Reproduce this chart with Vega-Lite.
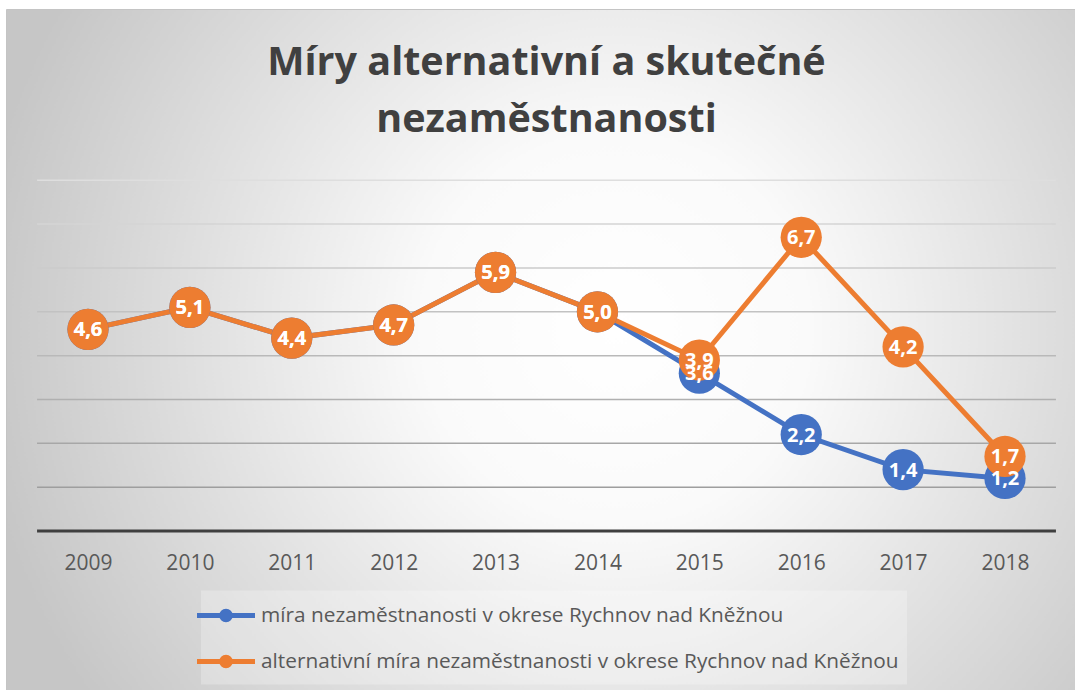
{
  "$schema": "https://vega.github.io/schema/vega-lite/v6.json",
  "autosize": {"type": "fit", "contains": "padding"},
  "width": 1075,
  "height": 690,
  "padding": {"left": 6, "top": 9, "right": 0, "bottom": 0},
  "background": "#ffffff",
  "config": {
    "locale": {"number": {"decimal": ",", "thousands": " ", "grouping": [3], "currency": ["", " Kč"]}},
    "view": {
      "stroke": "#c4c4c4",
      "fill": {
        "gradient": "radial",
        "x1": 0.57, "y1": 0.48, "r1": 0,
        "x2": 0.57, "y2": 0.48, "r2": 0.6,
        "stops": [
          {"offset": 0, "color": "#ffffff"},
          {"offset": 0.3, "color": "#fafafa"},
          {"offset": 1, "color": "#c6c6c6"}
        ]
      }
    },
    "font": "Open Sans"
  },
  "title": {
    "text": ["Míry alternativní a skutečné", "nezaměstnanosti"],
    "font": "Open Sans",
    "fontSize": 39.5,
    "fontWeight": "bold",
    "color": "#404040",
    "anchor": "middle",
    "frame": "group",
    "baseline": "top",
    "lineHeight": 57,
    "offset": -131,
    "dx": 6
  },
  "data": {
    "values": [
      {"rok": 2009, "rada": "míra nezaměstnanosti v okrese Rychnov nad Kněžnou", "hodnota": 4.6},
      {"rok": 2010, "rada": "míra nezaměstnanosti v okrese Rychnov nad Kněžnou", "hodnota": 5.1},
      {"rok": 2011, "rada": "míra nezaměstnanosti v okrese Rychnov nad Kněžnou", "hodnota": 4.4},
      {"rok": 2012, "rada": "míra nezaměstnanosti v okrese Rychnov nad Kněžnou", "hodnota": 4.7},
      {"rok": 2013, "rada": "míra nezaměstnanosti v okrese Rychnov nad Kněžnou", "hodnota": 5.9},
      {"rok": 2014, "rada": "míra nezaměstnanosti v okrese Rychnov nad Kněžnou", "hodnota": 5.0},
      {"rok": 2015, "rada": "míra nezaměstnanosti v okrese Rychnov nad Kněžnou", "hodnota": 3.6},
      {"rok": 2016, "rada": "míra nezaměstnanosti v okrese Rychnov nad Kněžnou", "hodnota": 2.2},
      {"rok": 2017, "rada": "míra nezaměstnanosti v okrese Rychnov nad Kněžnou", "hodnota": 1.4},
      {"rok": 2018, "rada": "míra nezaměstnanosti v okrese Rychnov nad Kněžnou", "hodnota": 1.2},
      {"rok": 2009, "rada": "alternativní míra nezaměstnanosti v okrese Rychnov nad Kněžnou", "hodnota": 4.6},
      {"rok": 2010, "rada": "alternativní míra nezaměstnanosti v okrese Rychnov nad Kněžnou", "hodnota": 5.1},
      {"rok": 2011, "rada": "alternativní míra nezaměstnanosti v okrese Rychnov nad Kněžnou", "hodnota": 4.4},
      {"rok": 2012, "rada": "alternativní míra nezaměstnanosti v okrese Rychnov nad Kněžnou", "hodnota": 4.7},
      {"rok": 2013, "rada": "alternativní míra nezaměstnanosti v okrese Rychnov nad Kněžnou", "hodnota": 5.9},
      {"rok": 2014, "rada": "alternativní míra nezaměstnanosti v okrese Rychnov nad Kněžnou", "hodnota": 5.0},
      {"rok": 2015, "rada": "alternativní míra nezaměstnanosti v okrese Rychnov nad Kněžnou", "hodnota": 3.9},
      {"rok": 2016, "rada": "alternativní míra nezaměstnanosti v okrese Rychnov nad Kněžnou", "hodnota": 6.7},
      {"rok": 2017, "rada": "alternativní míra nezaměstnanosti v okrese Rychnov nad Kněžnou", "hodnota": 4.2},
      {"rok": 2018, "rada": "alternativní míra nezaměstnanosti v okrese Rychnov nad Kněžnou", "hodnota": 1.7}
    ]
  },
  "encoding": {
    "x": {
      "type": "quantitative",
      "scale": {"domain": [2008.1952, 2018.687], "nice": false, "zero": false},
      "axis": {
        "orient": "bottom",
        "offset": -159,
        "values": [2009, 2010, 2011, 2012, 2013, 2014, 2015, 2016, 2017, 2018],
        "format": "d",
        "domain": false,
        "ticks": false,
        "grid": false,
        "labelPadding": 21,
        "labelFontSize": 21,
        "labelColor": "#595959",
        "labelFont": "Open Sans",
        "title": null
      }
    },
    "y": {
      "type": "quantitative",
      "scale": {"domain": [-3.627, 11.907], "nice": false, "zero": false},
      "axis": null
    }
  },
  "layer": [
    {
      "data": {"values": [{"v": 1}, {"v": 2}, {"v": 3}, {"v": 4}, {"v": 5}, {"v": 6}, {"v": 7}, {"v": 8}]},
      "mark": {"type": "rule", "strokeWidth": 1.5},
      "encoding": {
        "x": {"datum": 2008.5},
        "x2": {"datum": 2018.5},
        "y": {"field": "v"},
        "stroke": {
          "field": "v",
          "type": "quantitative",
          "scale": {"domain": [1, 8], "range": ["#9e9e9e", "#dedede"]},
          "legend": null
        }
      }
    },
    {
      "data": {"values": [{"osa": 0}]},
      "mark": {"type": "rule", "strokeWidth": 3, "color": "#3f3f3f"},
      "encoding": {
        "x": {"datum": 2008.5},
        "x2": {"datum": 2018.5},
        "y": {"datum": 0}
      }
    },
    {
      "mark": {
        "type": "line",
        "strokeWidth": 5,
        "point": {"filled": true, "size": 1700, "opacity": 1}
      },
      "encoding": {
        "x": {"field": "rok"},
        "y": {"field": "hodnota"},
        "color": {
          "field": "rada",
          "type": "nominal",
          "scale": {
            "domain": ["míra nezaměstnanosti v okrese Rychnov nad Kněžnou", "alternativní míra nezaměstnanosti v okrese Rychnov nad Kněžnou"],
            "range": ["#4472C4", "#ED7D31"]
          },
          "sort": null,
          "legend": {
            "orient": "none",
            "legendX": 195,
            "legendY": 581.5,
            "title": null,
            "direction": "vertical",
            "symbolType": "M-2,0H2M-0.3,0A0.3,0.3,0,1,0,0.3,0A0.3,0.3,0,1,0,-0.3,0Z",
            "symbolSize": 841,
            "symbolStrokeWidth": 5,
            "labelFontSize": 20.8,
            "labelFont": "Open Sans",
            "labelColor": "#595959",
            "labelLimit": 900,
            "labelOffset": 18,
            "rowPadding": 14,
            "padding": 8,
            "fillColor": "rgba(255,255,255,0.25)",
            "encode": {
              "symbols": {
                "update": {
                  "fill": {"scale": "color", "field": "value"},
                  "stroke": {"scale": "color", "field": "value"},
                  "opacity": {"value": 1}
                }
              }
            }
          }
        }
      }
    },
    {
      "mark": {
        "type": "text",
        "color": "#ffffff",
        "fontWeight": "bold",
        "fontSize": 20,
        "font": "Open Sans",
        "baseline": "middle",
        "align": "center",
        "dy": 1
      },
      "encoding": {
        "x": {"field": "rok"},
        "y": {"field": "hodnota"},
        "text": {"field": "hodnota", "type": "quantitative", "format": ".1f"}
      }
    }
  ]
}
